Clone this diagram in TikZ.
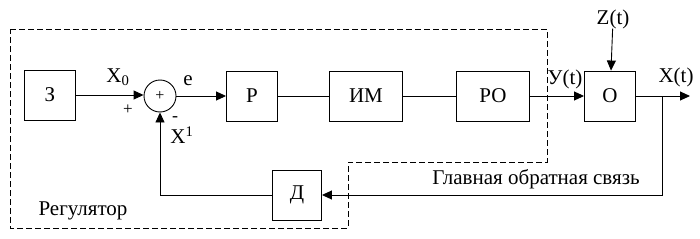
\documentclass[tikz,border=0pt]{standalone}
\usepackage{fontspec}
\setmainfont{Liberation Serif}
\usetikzlibrary{arrows.meta}
\begin{document}
\begin{tikzpicture}[x=1pt,y=-1pt,
  blk/.style={draw,line width=0.9pt,minimum width=51pt,minimum height=50pt,inner sep=0pt,font=\fontsize{21}{24}\selectfont},
  lbl/.style={inner sep=0pt,font=\fontsize{21}{24}\selectfont},
  conn/.style={line width=0.9pt},
  arr/.style={line width=0.9pt,-{Triangle[length=10pt,width=9pt]}},
  region/.style={line width=0.9pt,dash pattern=on 6pt off 3pt}]
\useasboundingbox (0,0) rectangle (700,238);
% regulator region
\draw[region] (10,29) -- (547,29) -- (547,162) -- (348,162) -- (348,228) -- (10,228) -- cycle;
% blocks
\node[blk] (z) at (50,95) {З};
\node[draw,line width=0.9pt,circle,minimum size=32pt,inner sep=0pt,font=\fontsize{16}{18}\selectfont] (sum) at (160,96) {+};
\node[blk] (r) at (252,96) {Р};
\node[blk,minimum width=73pt] (im) at (366,96) {ИМ};
\node[blk,minimum width=73pt] (ro) at (493,96) {РО};
\node[blk] (o) at (610,96) {О};
\node[blk,minimum width=49pt] (d) at (297,195) {Д};
\coordinate (out) at (690,96);
\coordinate (br) at (662,96);
\node[lbl] (zt) at (613,19) {Z(t)};
% connectors
\draw[arr] (z.east) -- (z.east -| sum.west);
\draw[arr] (sum) -- (r);
\draw[conn] (r) -- (im);
\draw[conn] (im) -- (ro);
\draw[arr] (ro) -- (o);
\draw[arr] (o) -- (out);
\draw[arr] (zt) -- (o);
\draw[arr] (br) |- (d);
\draw[arr] (d) -| (sum);
% labels
\node[lbl] at (118,77) {X\textsubscript{0}};
\node[lbl,font=\fontsize{17}{20}\selectfont] at (128,110) {+};
\node[lbl] at (188,81) {e};
\node[lbl,font=\fontsize{18}{20}\selectfont] at (175,119) {-};
\node[lbl] at (182,135) {X\textsuperscript{1}};
\node[lbl] at (565,79) {У(t)};
\node[lbl] at (676,77) {X(t)};
\node[lbl] at (536,179) {Главная обратная связь};
\node[lbl] at (83,211) {Регулятор};
\end{tikzpicture}
\end{document}
